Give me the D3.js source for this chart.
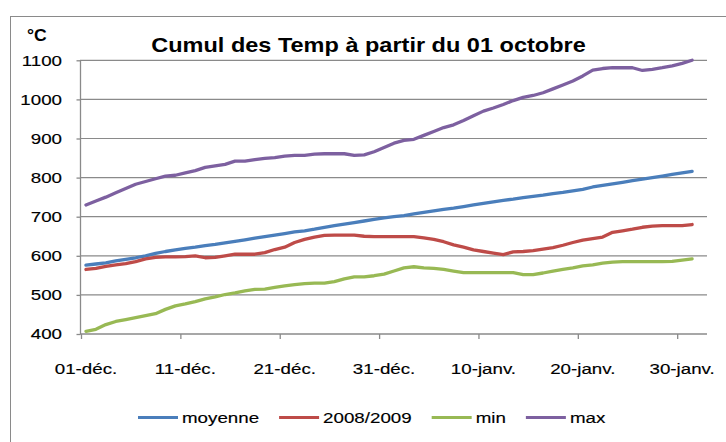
<!DOCTYPE html>
<html><head><meta charset="utf-8">
<script src="https://cdn.jsdelivr.net/npm/d3@7"></script>
<style>
html,body{margin:0;padding:0;background:#fff;}
svg{display:block;}
text{font-family:"Liberation Sans",Arial,sans-serif;}
</style></head>
<body>
<svg id="chart" width="726" height="442"></svg>
<script>
// ---- data ----
const startDate = new Date(2008, 11, 1);   // 01-déc.
const endDate = new Date(2009, 1, 2);      // axis end
const tickLabels = ["01-déc.","11-déc.","21-déc.","31-déc.","10-janv.","20-janv.","30-janv."];
const yTicks = [400,500,600,700,800,900,1000,1100];
const seriesNames = ["moyenne","2008/2009","min","max"];
const moyenne = [576,579,582,587,591,595,600,606,611,615,619,622,626,629,633,637,641,645,649,653,657,661,664,668,673,677,681,685,689,693,697,700,703,707,711,715,719,722,726,730,734,738,742,745,749,752,755,759,762,766,770,776,780,784,788,792,796,800,804,808,812,816];
const an2008 = [565,568,573,577,580,585,592,596,597,597,598,600,595,596,600,604,604,604,608,616,622,634,642,648,652,653,653,653,650,649,649,649,649,649,646,642,636,628,622,615,611,607,603,610,611,613,617,621,627,634,640,644,648,660,664,668,673,676,677,677,677,680];
const minV = [407,412,424,432,437,442,447,452,463,472,477,483,490,495,501,505,510,514,515,519,523,526,529,530,530,534,541,546,546,549,553,561,569,572,569,568,565,561,557,557,557,557,557,557,552,552,556,561,565,569,574,577,581,584,585,585,585,585,585,586,589,592];
const maxV = [730,740,750,761,772,783,790,797,804,806,812,818,826,830,834,842,842,846,849,851,855,857,857,860,861,861,861,857,858,866,877,888,895,898,908,918,928,935,946,958,970,978,987,997,1005,1010,1017,1027,1037,1047,1060,1075,1079,1081,1081,1081,1074,1077,1081,1086,1092,1100];
const seriesValues = [moyenne, an2008, minV, maxV];
const colors = ["#4a7ebb","#be4b48","#98b954","#7d60a0"];

// ---- layout ----
const svg = d3.select("#chart");
const days = d3.timeDay.range(startDate, d3.timeDay.offset(startDate, moyenne.length));
const mid = d => d3.timeHour.offset(d, 12);
const x = d3.scaleTime().domain([startDate, endDate]).range([81, 707]);
const y = d3.scaleLinear().domain([400, 1100]).range([334, 60.3]);
const SX = 1.25;
const gridCol = "#8a8a8a";

// outer border
svg.append("rect").attr("x",10.5).attr("y",16.5).attr("width",760).attr("height",460)
  .attr("fill","none").attr("stroke","#8a8a8a").attr("stroke-width",1);

// gridlines
svg.append("g").selectAll("line").data(yTicks.filter(v => v > 400)).join("line")
  .attr("x1", 80).attr("x2", 707).attr("y1", d => y(d)).attr("y2", d => y(d))
  .attr("stroke", gridCol).attr("stroke-width", 1.2);

// y axis
const yAxis = svg.append("g").attr("transform","translate(80.5,0)")
  .call(d3.axisLeft(y).tickValues(yTicks).tickSize(4).tickFormat(""));
yAxis.selectAll("path,line").attr("stroke", gridCol).attr("stroke-width",1.3);
yAxis.select(".domain").attr("d","M0,"+y(1100)+"V"+y(400));
svg.append("g").selectAll("text").data(yTicks).join("text")
  .attr("transform", d => `translate(62,${y(d)+5.4}) scale(${SX},1)`)
  .attr("text-anchor","end").attr("font-size",15).attr("fill","#000")
  .attr("stroke","#000").attr("stroke-width",0.15)
  .text(d => d);

// x axis
const tickDates = tickLabels.map((t,i) => d3.timeDay.offset(startDate, i*10));
const xAxis = svg.append("g").attr("transform","translate(0,334)")
  .call(d3.axisBottom(x).tickValues(tickDates).tickSize(5).tickFormat(""));
xAxis.selectAll("path,line").attr("stroke", gridCol).attr("stroke-width",1.3);
xAxis.select(".domain").attr("d","M80,0H707");
svg.append("g").selectAll("text").data(tickDates).join("text")
  .attr("transform", d => `translate(${x(mid(d))},373.5) scale(${SX},1)`)
  .attr("text-anchor","middle").attr("font-size",15).attr("fill","#000")
  .attr("stroke","#000").attr("stroke-width",0.15)
  .text((d,i) => tickLabels[i]);

// lines
const line = d3.line().x((d,i) => x(mid(days[i]))).y(d => y(d));
svg.append("g").selectAll("path").data(seriesValues).join("path")
  .attr("d", d => line(d)).attr("fill","none")
  .attr("stroke", (d,i) => colors[i]).attr("stroke-width",3.3)
  .attr("stroke-linejoin","round").attr("stroke-linecap","round");

// title
svg.append("text").attr("transform",`translate(368.5,52) scale(1.12,1)`)
  .attr("text-anchor","middle").attr("font-size",21).attr("font-weight","bold").attr("fill","#000")
  .text("Cumul des Temp à partir du 01 octobre");
svg.append("text").attr("transform",`translate(27,41) scale(1.1,1)`)
  .attr("font-size",16).attr("font-weight","bold").attr("fill","#000")
  .text("°C");

// legend
const leg = svg.append("g");
let lx = 138;
seriesNames.forEach((name,i) => {
  leg.append("line").attr("x1",lx).attr("x2",lx+40).attr("y1",417.5).attr("y2",417.5)
    .attr("stroke",colors[i]).attr("stroke-width",3);
  const t = leg.append("text").attr("transform",`translate(${lx+44},422.5) scale(${SX},1)`)
    .attr("font-size",15).attr("fill","#000")
    .attr("stroke","#000").attr("stroke-width",0.15).text(name);
  lx += 44 + t.node().getComputedTextLength()*SX + 20;
});
</script>
</body></html>
